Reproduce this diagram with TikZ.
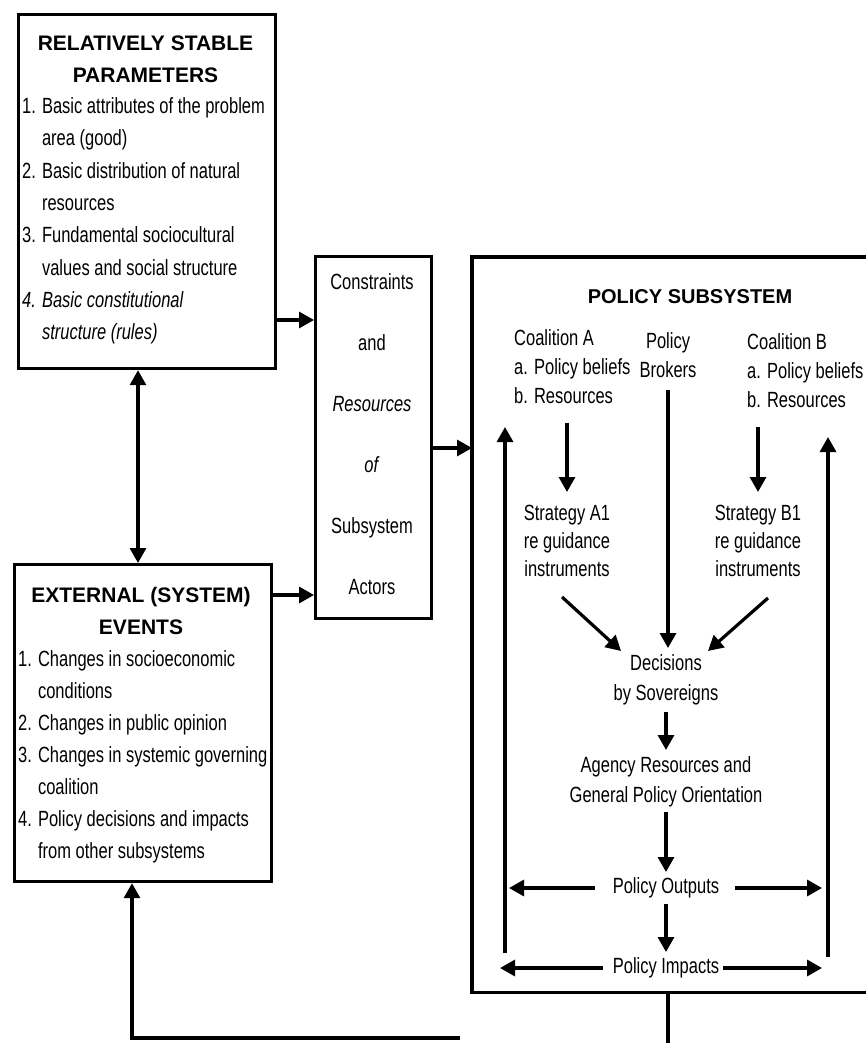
\documentclass[tikz,border=0pt]{standalone}
\usepackage{fontspec}
\setmainfont[FakeStretch=0.75]{Liberation Sans}
\newfontfamily\titlefont{Liberation Sans}
\usetikzlibrary{arrows.meta}
\tikzset{
  >={Triangle[length=15pt,width=16pt]},
  box/.style={draw, line width=3.2pt, inner sep=0pt},
  arr/.style={line width=3.2pt, ->},
  dbl/.style={line width=3.2pt, <->},
  ln/.style={line width=3.2pt},
  txt/.style={inner sep=0pt, font=\fontsize{22}{29}\selectfont},
  ttl/.style={inner sep=0pt, font=\titlefont\bfseries\fontsize{21}{32}\selectfont},
}
\begin{document}
\begin{tikzpicture}[x=1pt,y=-1pt]
\fill[white] (0,0) rectangle (866,1043);
\useasboundingbox (0,0) rectangle (866,1043);

% --- left boxes
\node[box, anchor=north west, minimum width=257, minimum height=354] (stable) at (17,13) {};
\node[ttl, align=center] (stableT) at (145.5,59) {RELATIVELY STABLE\\PARAMETERS};
\node[txt, align=left, anchor=west, font=\fontsize{22}{32.3}\selectfont] (stableL) at (22,221)
 {1. Basic attributes of the problem\\\phantom{1. }area (good)\\
  2. Basic distribution of natural\\\phantom{2. }resources\\
  3. Fundamental sociocultural\\\phantom{3. }values and social structure\\
  \textit{4. Basic constitutional}\\\textit{\phantom{4. }structure (rules)}};

\node[box, anchor=north west, minimum width=257, minimum height=317] (ext) at (13,563) {};
\node[ttl, align=center] (extT) at (141,611) {EXTERNAL (SYSTEM)\\EVENTS};
\node[txt, align=left, anchor=west, font=\fontsize{22}{32}\selectfont] (extL) at (18,757)
 {1. Changes in socioeconomic\\\phantom{1. }conditions\\
  2. Changes in public opinion\\
  3. Changes in systemic governing\\\phantom{3. }coalition\\
  4. Policy decisions and impacts\\\phantom{4. }from other subsystems};

% --- constraints box
\node[box, anchor=north west, minimum width=116, minimum height=362] (cons) at (314,255) {};
\node[txt, align=center, font=\fontsize{22}{61}\selectfont] (consL) at (372,434.5)
 {Constraints\\and\\\textit{Resources}\\\textit{of}\\Subsystem\\Actors};

% --- policy subsystem (right edge cut by the page)
\node[inner sep=0pt, anchor=north west, minimum width=400, minimum height=735] (sub) at (472,257) {};
\draw[ln] (sub.north east) -- (sub.north west) -- (sub.south west) -- (sub.south east);
\node[ttl, font=\titlefont\bfseries\fontsize{20}{24}\selectfont] (subT) at (690,297) {POLICY SUBSYSTEM};

\node[txt, align=left, anchor=west] (coalA) at (514,367) {Coalition A\\a. Policy beliefs\\b. Resources};
\node[txt, align=center] (brok) at (668,355) {Policy\\Brokers};
\node[txt, align=left, anchor=west] (coalB) at (747,371) {Coalition B\\a. Policy beliefs\\b. Resources};

\node[txt, align=center, font=\fontsize{22}{28}\selectfont] (stratA) at (567,541) {Strategy A1\\re guidance\\instruments};
\node[txt, align=center, font=\fontsize{22}{28}\selectfont] (stratB) at (758,541) {Strategy B1\\re guidance\\instruments};

\node[txt, align=center, font=\fontsize{22}{30}\selectfont] (dec) at (666,680) {Decisions\\by Sovereigns};
\node[txt, align=center, font=\fontsize{22}{30}\selectfont] (agency) at (666,782) {Agency Resources and\\General Policy Orientation};
\node[txt] (outp) at (666,888) {Policy Outputs};
\node[txt] (imp) at (666,968) {Policy Impacts};

% --- connectors between the outer boxes
\draw[arr] (stable.east |- 0,320) -- (cons.west |- 0,320);
\draw[arr] (ext.east |- 0,595) -- (cons.west |- 0,595);
\draw[arr] (cons.east |- 0,448) -- (sub.west |- 0,448);
\draw[dbl] (138,0 |- stable.south) -- (138,0 |- ext.north);

% --- inside the subsystem
\coordinate (lt) at (505,427);
\coordinate (lb) at (505,953);
\coordinate (rt) at (828,437);
\coordinate (rb) at (828,957);
\draw[arr] (lb) -- (lt);
\draw[arr] (rb) -- (rt);

\draw[arr] (stratA.north |- 0,423) -- (stratA.north |- 0,492);
\draw[arr] (stratB.north |- 0,427) -- (stratB.north |- 0,492);
\draw[arr] (brok.south |- 0,390) -- (brok.south |- 0,648);
\coordinate (dAs) at (562,597);
\coordinate (dAe) at (621,651);
\coordinate (dBs) at (768,598);
\coordinate (dBe) at (708,651);
\draw[arr] (dAs) -- (dAe);
\draw[arr] (dBs) -- (dBe);

\draw[arr] (dec.south |- 0,712) -- (dec.south |- 0,750);
\draw[arr] (agency.south |- 0,812) -- (agency.south |- 0,872);
\draw[arr] (outp.south |- 0,904) -- (outp.south |- 0,952);

\draw[arr] ([xshift=-18pt]outp.west) -- (509,0 |- outp.west);
\draw[arr] ([xshift=16pt]outp.east) -- (822,0 |- outp.east);
\draw[arr] ([xshift=-10pt]imp.west) -- (500,0 |- imp.west);
\draw[arr] ([xshift=4pt]imp.east) -- (822,0 |- imp.east);

% --- feedback from the subsystem to external events
\coordinate (fbb) at (668,1046);
\draw[ln] (668,0 |- sub.south) -- (fbb);
\coordinate (fe) at (460,1038);
\draw[arr] (fe) -- (132,1038) -- (132,0 |- ext.south);
\end{tikzpicture}
\end{document}
